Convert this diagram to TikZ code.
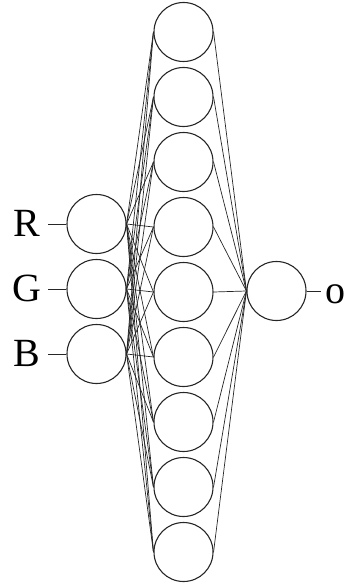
\documentclass[tikz,border=0pt]{standalone}
\usepackage{fontspec}
\setmainfont{Liberation Serif}
\usetikzlibrary{calc, positioning}

\tikzset{
    neuron/.style={circle, draw=black!85, line width=1.1pt, minimum size=59pt, inner sep=0pt},
    synapse/.style={draw=black!85, line width=0.7pt},
    stub/.style={draw=black!85, line width=0.9pt},
    chan/.style={anchor=base, inner sep=0pt, font=\fontsize{40}{42}\selectfont}
}

\begin{document}
\begin{tikzpicture}[x=1pt, y=-1pt]
    \useasboundingbox (0, 0) rectangle (347, 583);

    % input layer
    \foreach \n/\t/\y in {1/R/224, 2/G/289, 3/B/354} {
        \node [neuron] (in\n) at (96.5, \y) {};
        \node [chan] (lab\t) at (27, \y+12) {\t};
        \coordinate (s\n) at (48, \y);
        \draw [stub] (s\n) -- (in\n.west);
    }

    % hidden layer
    \foreach \k in {1, ..., 9}
        \node [neuron] (h\k) at (183.5, {32+65*(\k-1)}) {};

    % output
    \node [neuron] (out) at (276.5, 291) {};
    \coordinate (so) at (321, 291);
    \draw [stub] (out.east) -- (so);
    \node [chan] (labO) at (335.5, 303) {o};

    \foreach \k in {1, ..., 9} {
        \foreach \n in {1, 2, 3}
            \draw [synapse] (in\n.east) -- (h\k.west);
        \draw [synapse] (h\k.east) -- (out.west);
    }
\end{tikzpicture}
\end{document}
